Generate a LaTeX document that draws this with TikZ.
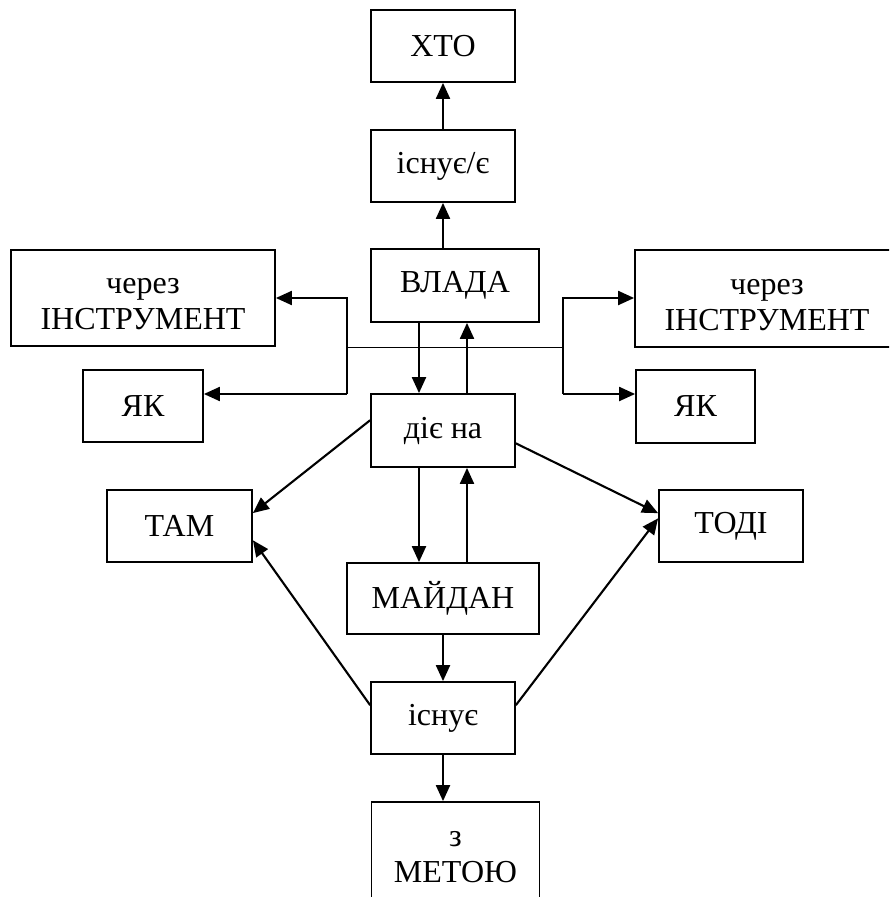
\documentclass[tikz,border=0pt]{standalone}
\usepackage{fontspec}
\setmainfont{Liberation Serif}
\usetikzlibrary{arrows.meta,calc}
\tikzset{
  box/.style={draw, line width=1.8pt, inner sep=0pt, align=center,
    font=\fontsize{32}{36}\selectfont},
  arr/.style={line width=2.1pt, -{Triangle[length=16pt,width=14pt]}},
  thinln/.style={line width=1pt}
}
\newcommand{\twoline}[3]{\raisebox{#1}[0pt][0pt]{\begin{tabular}{@{}c@{}}#2\\#3\end{tabular}}}
\begin{document}
\begin{tikzpicture}[x=1pt,y=-1pt]
\path[use as bounding box, clip] (0,0) rectangle (889,897);
\node[box, minimum width=144, minimum height=72] (hto) at (443,46) {ХТО};
\node[box, minimum width=144, minimum height=72] (isnue2) at (443,166) {існує/є};
\node[box, minimum width=168, minimum height=73] (vlada) at (455,285.5) {ВЛАДА};
\node[box, minimum width=264, minimum height=96] (lin) at (143,298) {\twoline{-13pt}{через}{ІНСТРУМЕНТ}};
\node[box, minimum width=120, minimum height=72] (ljak) at (143,406) {ЯК};
\node[box, minimum width=264, minimum height=97] (rin) at (767,298.5) {\twoline{-13pt}{через}{ІНСТРУМЕНТ}};
\node[box, minimum width=119, minimum height=73] (rjak) at (695.5,406.5) {ЯК};
\node[box, minimum width=144, minimum height=73] (dien) at (443,430.5) {діє на};
\node[box, minimum width=145, minimum height=72] (tam) at (179.5,526) {ТАМ};
\node[box, minimum width=144, minimum height=72] (todi) at (731,526) {ТОДІ};
\node[box, minimum width=192, minimum height=71] (maidan) at (443,598.5) {МАЙДАН};
\node[box, minimum width=144, minimum height=72] (isnue) at (443,718) {існує};
\node[box, minimum width=168, minimum height=100] (meta) at (455.5,852) {\twoline{-12pt}{з}{МЕТОЮ}};

\coordinate (xa) at (419,0);
\coordinate (xb) at (467,0);
\coordinate (lbt) at (347,298);
\coordinate (lbm) at (347,347);
\coordinate (lbb) at (347,394);
\coordinate (rbt) at (563,298);
\coordinate (rbm) at (563,347);
\coordinate (rbb) at (563,394);

% thin horizontal line
\draw[thinln] (lbm) -- (rbm);

% top column
\draw[arr] (isnue2.north) -- (hto.south);
\draw[arr] (vlada.north -| isnue2.north) -- (isnue2.south);

% ВЛАДА <-> діє на
\draw[arr] (vlada.south -| xa) -- (dien.north -| xa);
\draw[arr] (dien.north -| xb) -- (vlada.south -| xb);

% діє на <-> МАЙДАН
\draw[arr] (dien.south -| xa) -- (maidan.north -| xa);
\draw[arr] (maidan.north -| xb) -- (dien.south -| xb);

% МАЙДАН -> існує -> з МЕТОЮ
\draw[arr] (maidan.south -| isnue.north) -- (isnue.north);
\draw[arr] (isnue.south) -- (meta.north -| isnue.south);

% left bracket
\draw[arr, line join=miter] (lbb) -- (lbt) -- (lbt -| lin.east);
\draw[arr] (lbb) -- (lbb -| ljak.east);

% right bracket
\draw[arr, line join=miter] (rbb) -- (rbt) -- (rbt -| rin.west);
\draw[arr] (rbb) -- (rbb -| rjak.west);

% diagonals
\draw[arr] (dien.172) -- (tam.10);
\draw[arr] (isnue.170) -- (tam.349);
\draw[arr] (dien.350) -- (todi.170);
\draw[arr] (isnue.10) -- (todi.174);
\end{tikzpicture}
\end{document}
